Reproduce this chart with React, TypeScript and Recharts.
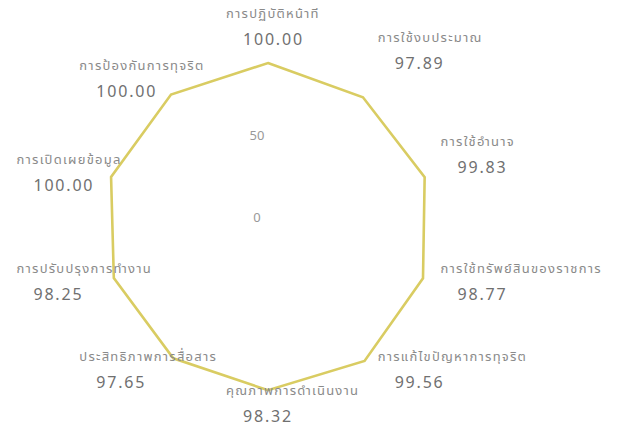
import { PolarAngleAxis, PolarGrid, PolarRadiusAxis, Radar, RadarChart } from "recharts";

const categories = [
  "การปฏิบัติหน้าที่",
  "การใช้งบประมาณ",
  "การใช้อำนาจ",
  "การใช้ทรัพย์สินของราชการ",
  "การแก้ไขปัญหาการทุจริต",
  "คุณภาพการดำเนินงาน",
  "ประสิทธิภาพการสื่อสาร",
  "การปรับปรุงการทำงาน",
  "การเปิดเผยข้อมูล",
  "การป้องกันการทุจริต",
];

const scores = [100.0, 97.89, 99.83, 98.77, 99.56, 98.32, 97.65, 98.25, 100.0, 100.0];

const radiusTicks = [0, 50];

const data = categories.map((name, i) => ({ name, score: scores[i] }));

const CX = 260;
const CY = 228;
const FONT = "'Noto Sans Thai', Loma, Garuda, Tahoma, 'Noto Sans', sans-serif";

function AngleTick(props: { x?: number; y?: number; payload?: { value?: string } }) {
  const x = props.x ?? 0;
  const y = props.y ?? 0;
  const label = props.payload?.value ?? "";
  const idx = categories.indexOf(label);
  const dx = x - CX;
  const dy = CY - y;
  const len = Math.hypot(dx, dy) || 1;
  const cos = dx / len;
  const sin = dy / len;

  // label block: name on top, value under it, left aligned with a small indent
  let left = x - 42;
  if (cos > 0.1) left = x + 8;
  else if (cos < -0.1) left = x - 87;
  const base = sin > 0.05 ? y - 12 - 25 * sin - 30 * cos * sin : y - 10 - 4 * sin;

  return (
    <g>
      <text x={left} y={base} fill="#8a8a8a" fontSize={13} letterSpacing={1.25} fontFamily={FONT}>
        {label}
      </text>
      <text x={left + 17} y={base + 27} fill="#707070" fontSize={16} letterSpacing={1.8} fontFamily={FONT}>
        {idx >= 0 ? scores[idx].toFixed(2) : ""}
      </text>
    </g>
  );
}

function RadiusTick(props: { x?: number; y?: number; payload?: { value?: number } }) {
  const x = props.x ?? 0;
  const y = props.y ?? 0;
  return (
    <text x={x - 11} y={y - 6} textAnchor="middle" fill="#999" fontSize={13} fontFamily={FONT}>
      {props.payload?.value}
    </text>
  );
}

export default function App() {
  return (
    <div style={{ width: 605, height: 428, marginTop: -8, background: "#fff" }}>
      <RadarChart width={605} height={428} data={data} cx={CX} cy={CY} outerRadius={165}>
        <PolarGrid gridType="polygon" stroke="none" radialLines={false} />
        <PolarAngleAxis dataKey="name" tickLine={false} axisLine={false} tick={<AngleTick />} />
        <PolarRadiusAxis
          angle={90}
          domain={[0, 100]}
          ticks={radiusTicks}
          axisLine={false}
          tickLine={false}
          tick={<RadiusTick />}
        />
        <Radar
          dataKey="score"
          stroke="#d9cc62"
          strokeWidth={2.6}
          fill="none"
          isAnimationActive={false}
        />
      </RadarChart>
    </div>
  );
}
